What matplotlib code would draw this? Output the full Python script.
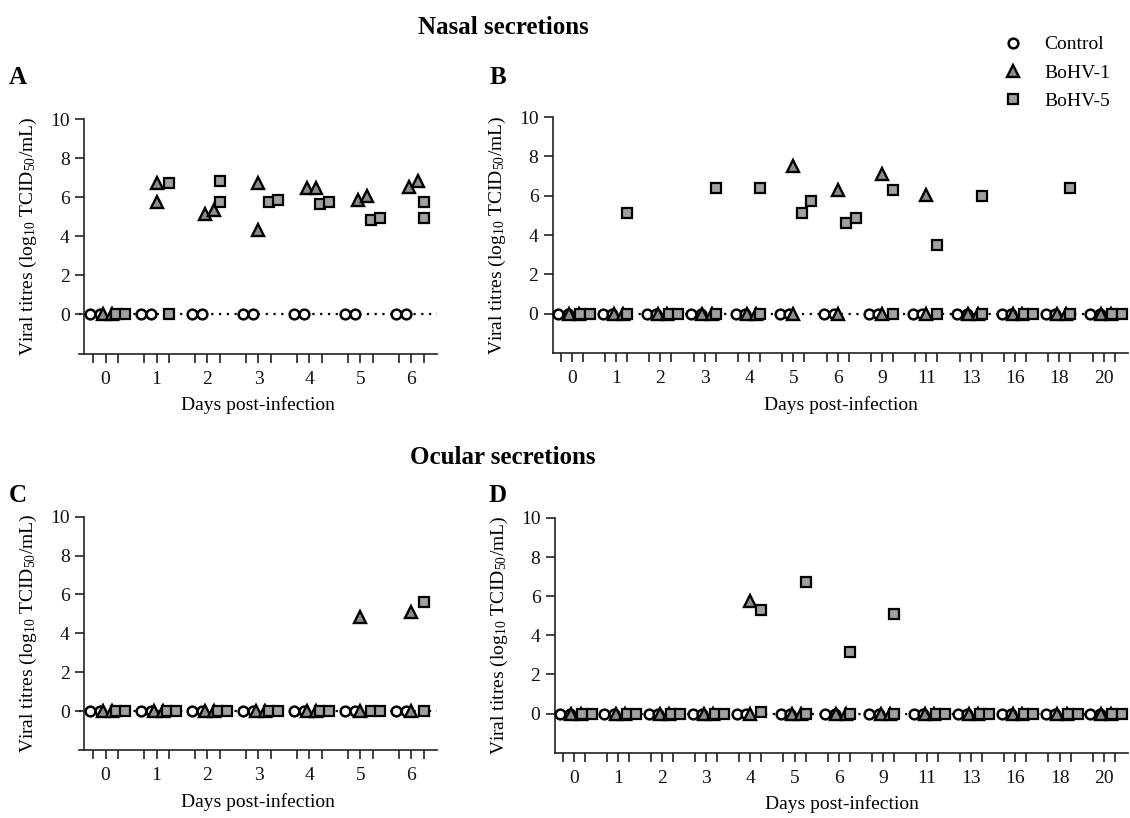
import numpy as np
import matplotlib
matplotlib.use('Agg')
import matplotlib.pyplot as plt
from matplotlib.lines import Line2D

plt.rcParams['font.family'] = ['Liberation Serif', 'DejaVu Serif']
plt.rcParams['mathtext.default'] = 'regular'

# Experiment 1 (panels A and C): days 0-6, two animals per group
days_1 = [0, 1, 2, 3, 4, 5, 6]
# Experiment 2 (panels B and D): days 0-20
days_2 = [0, 1, 2, 3, 4, 5, 6, 9, 11, 13, 16, 18, 20]

# Nasal secretions, experiment 1
nasal_ctrl_1 = [[0, 0], [0, 0], [0, 0], [0, 0], [0, 0], [0, 0], [0, 0]]
nasal_bhv1_1 = [[0, 0], [6.75, 5.75], [5.15, 5.36], [6.72, 4.34],
                [6.46, 6.46], [5.83, 6.04], [6.51, 6.84]]
nasal_bhv5_1 = [[0, 0], [6.75, 0], [6.84, 5.75], [5.75, 5.83],
                [5.66, 5.75], [4.81, 4.93], [5.75, 4.93]]

# Nasal secretions, experiment 2
nasal_ctrl_2 = [[0, 0], [0, 0], [0, 0], [0, 0], [0, 0], [0, 0], [0, 0],
                [0, 0], [0, 0], [0, 0], [0, 0], [0, 0], [0, 0]]
nasal_bhv1_2 = [[0, 0], [0, 0], [0, 0], [0, 0], [0, 0], [7.5, 0], [6.3, 0],
                [7.08, 0], [6.05, 0], [0, 0], [0, 0], [0, 0], [0, 0]]
nasal_bhv5_2 = [[0, 0], [5.1, 0], [0, 0], [6.4, 0], [6.4, 0], [5.1, 5.73],
                [4.6, 4.86], [6.3, 0], [3.47, 0], [6.0, 0], [0, 0], [6.4, 0],
                [0, 0]]

# Ocular secretions, experiment 1
ocular_ctrl_1 = [[0, 0], [0, 0], [0, 0], [0, 0], [0, 0], [0, 0], [0, 0]]
ocular_bhv1_1 = [[0, 0], [0, 0], [0, 0], [0, 0], [0, 0], [4.86, 0], [5.08, 0]]
ocular_bhv5_1 = [[0, 0], [0, 0], [0, 0], [0, 0], [0, 0], [0, 0], [5.59, 0]]

# Ocular secretions, experiment 2
ocular_ctrl_2 = [[0, 0], [0, 0], [0, 0], [0, 0], [0, 0], [0, 0], [0, 0],
                 [0, 0], [0, 0], [0, 0], [0, 0], [0, 0], [0, 0]]
ocular_bhv1_2 = [[0, 0], [0, 0], [0, 0], [0, 0], [5.75, 0], [0, 0], [0, 0],
                 [0, 0], [0, 0], [0, 0], [0, 0], [0, 0], [0, 0]]
ocular_bhv5_2 = [[0, 0], [0, 0], [0, 0], [0, 0], [5.31, 0.1], [6.72, 0],
                 [3.16, 0], [5.08, 0], [0, 0], [0, 0], [0, 0], [0, 0], [0, 0]]

group_names = ['Control', 'BoHV-1', 'BoHV-5']

W, H = 1130, 818
FS = 14

styles = [
    dict(marker='o', ms=7.0, mfc='white', mec='black', mew=1.8),
    dict(marker='^', ms=8.0, mfc='#8c8c8c', mec='black', mew=1.7),
    dict(marker='s', ms=7.4, mfc='#a0a0a0', mec='black', mew=1.6),
]


def spread(vals, center, step, tol=0.7):
    # points with close values are put side by side, like a column scatter
    vals = np.asarray(vals, dtype=float)
    xs = np.full(len(vals), float(center))
    clusters = []
    for i in np.argsort(vals, kind='stable'):
        if clusters and vals[i] - vals[clusters[-1][-1]] < tol:
            clusters[-1].append(i)
        else:
            clusters.append([i])
    for c in clusters:
        n = len(c)
        if n > 1:
            for j, i in enumerate(c):
                xs[i] = center + (j - (n - 1) / 2.0 + 0.25) * step
    return xs


def draw_panel(rect, days, series, xlim, spine_x=None):
    ax = fig.add_axes(rect)
    ax.set_xlim(xlim)
    ax.set_ylim(-2, 10)
    px_per_unit = rect[2] * W / (xlim[1] - xlim[0])
    step = 9.3 / px_per_unit

    ax.axhline(0, color='black', lw=1.6, ls=(0, (1, 2.5)), zorder=1)

    for g, day in enumerate(days):
        for k, vals in enumerate(series):
            xs = spread(vals[g], 4 * g + k, step)
            ax.plot(xs, vals[g], ls='none', zorder=3 + k, clip_on=False,
                    **styles[k])

    ticks = []
    labels = []
    for g, day in enumerate(days):
        ticks += [4 * g, 4 * g + 1, 4 * g + 2]
        labels += ['', str(day), '']
    ax.set_xticks(ticks)
    ax.set_xticklabels(labels)
    ax.set_yticks([0, 2, 4, 6, 8, 10])

    for s in ['top', 'right']:
        ax.spines[s].set_visible(False)
    for s in ['left', 'bottom']:
        ax.spines[s].set_linewidth(1.2)
        ax.spines[s].set_color('#222222')
    if spine_x is not None:
        ax.spines['left'].set_position(('data', spine_x))

    ax.tick_params(axis='both', direction='out', length=6.5, width=1.2,
                   labelsize=14, color='#222222', labelcolor='#111111')
    ax.tick_params(axis='x', pad=6)
    ax.tick_params(axis='y', pad=4)

    ax.set_ylabel(r'Viral titres (log$_{10}$ TCID$_{50}$/mL)', fontsize=FS,
                  labelpad=8)
    ax.set_xlabel('Days post-infection', fontsize=FS, labelpad=6)
    return ax


fig = plt.figure(figsize=(W / 100.0, H / 100.0), dpi=100)

xlim_1 = (-1.08, 26.98)
xlim_2 = (-0.69, 51.2)

draw_panel([79 / W, (H - 353.5) / H, 357.7 / W, 234.5 / H], days_1,
           [nasal_ctrl_1, nasal_bhv1_1, nasal_bhv5_1], xlim_1, spine_x=-0.66)
draw_panel([553 / W, (H - 353) / H, 575 / W, 236 / H], days_2,
           [nasal_ctrl_2, nasal_bhv1_2, nasal_bhv5_2], xlim_2)
draw_panel([79 / W, (H - 750) / H, 357.7 / W, 233.3 / H], days_1,
           [ocular_ctrl_1, ocular_bhv1_1, ocular_bhv5_1], xlim_1, spine_x=-0.66)
draw_panel([555 / W, (H - 752.7) / H, 573 / W, 234.7 / H], days_2,
           [ocular_ctrl_2, ocular_bhv1_2, ocular_bhv5_2], xlim_2)

# Titles and panel letters
fig.text(503 / W, 1 - 28 / H, 'Nasal secretions', fontsize=18,
         fontweight='bold', ha='center', va='center')
fig.text(503 / W, 1 - 458 / H, 'Ocular secretions', fontsize=18,
         fontweight='bold', ha='center', va='center')
for letter, (x, y) in zip('ABCD', [(18, 77), (498, 77), (18, 495), (498, 495)]):
    fig.text(x / W, 1 - y / H, letter, fontsize=18, fontweight='bold',
             ha='center', va='center')

handles = [Line2D([], [], ls='none', **styles[k]) for k in range(3)]
fig.legend(handles, group_names, loc='upper left',
           bbox_to_anchor=(992 / W, 1 - 26 / H), frameon=False, fontsize=FS,
           handlelength=1.2, handletextpad=1.0, labelspacing=0.55,
           borderpad=0.0)

plt.savefig('out.png', dpi=100)
